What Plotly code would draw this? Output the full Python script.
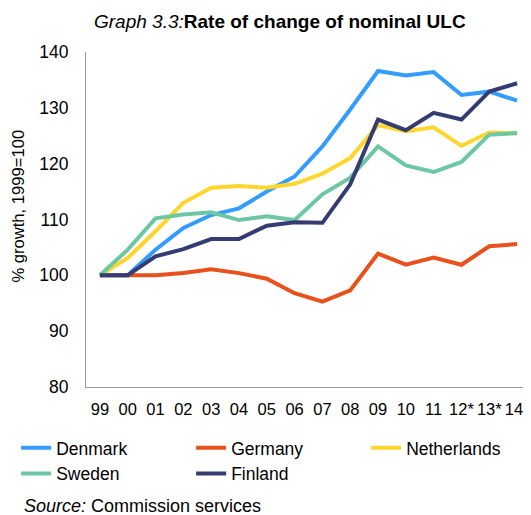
"""Graph 3.3: rate of change of nominal ULC."""

import plotly.graph_objects as go

years = ["99", "00", "01", "02", "03", "04", "05", "06", "07", "08",
         "09", "10", "11", "12*", "13*", "14*"]

denmark = [100, 100, 104.6, 108.5, 110.8, 112.0, 115.0, 117.7, 123.1, 129.7,
           136.6, 135.8, 136.4, 132.3, 132.9, 131.3]
germany = [100, 100, 100, 100.4, 101.1, 100.4, 99.4, 96.8, 95.3, 97.3,
           103.9, 101.9, 103.2, 101.9, 105.2, 105.6]
netherlands = [100, 103.1, 107.9, 113.0, 115.7, 116.0, 115.7, 116.4, 118.2, 121.0,
               126.9, 125.8, 126.5, 123.2, 125.6, 125.4]
sweden = [100, 104.6, 110.2, 110.9, 111.3, 109.9, 110.6, 109.9, 114.5, 117.5,
          123.1, 119.7, 118.5, 120.3, 125.2, 125.5]
finland = [100, 100, 103.4, 104.7, 106.5, 106.5, 108.9, 109.5, 109.4, 116.3,
           127.9, 126.0, 129.1, 127.9, 132.9, 134.4]

series = [
    ("Denmark", denmark, "#339cff"),
    ("Germany", germany, "#e8511c"),
    ("Netherlands", netherlands, "#ffd52e"),
    ("Sweden", sweden, "#6dc7a5"),
    ("Finland", finland, "#343c72"),
]

FONT = "Liberation Sans, Arial, sans-serif"

fig = go.Figure()
for name, values, color in series:
    fig.add_trace(
        go.Scatter(x=years, y=values, name=name, mode="lines",
                   line=dict(color=color, width=4))
    )

# page body adds an 8px margin, so the figure is 8px smaller than the window
fig.update_layout(
    width=523,
    height=507,
    margin=dict(l=78, r=0, t=44, b=128, autoexpand=False),
    plot_bgcolor="white",
    paper_bgcolor="white",
    font=dict(family=FONT, size=17.5, color="#000000"),
    showlegend=True,
    legend=dict(
        orientation="h", x=-0.157, xanchor="left", y=-0.128, yanchor="top",
        entrywidth=130, entrywidthmode="pixels", font=dict(size=17.5),
        tracegroupgap=0,
    ),
    annotations=[
        dict(text="<i>Graph 3.3:</i><b>Rate of change of nominal ULC</b>",
             xref="paper", yref="paper", x=0.437, y=1 + 31 / 335,
             xanchor="center", yanchor="middle", showarrow=False,
             font=dict(size=19)),
        dict(text="% growth, 1999=100", xref="paper", yref="paper",
             x=-0.1525, y=0.539, textangle=-90, xanchor="center",
             yanchor="middle", showarrow=False, font=dict(size=16.6)),
        dict(text="<i>Source:</i> Commission services", xref="paper", yref="paper",
             x=-0.144, y=-0.355, xanchor="left", yanchor="middle",
             showarrow=False, font=dict(size=18)),
    ],
)
fig.update_xaxes(
    type="category", range=[-0.5, len(years) - 0.5], showgrid=False,
    showline=True, linecolor="#9a9a9a", linewidth=1, ticks="", tickangle=0,
    ticklabelstandoff=7, tickfont=dict(size=16.5), automargin=False,
)
fig.update_yaxes(
    range=[80, 140], dtick=10, showgrid=False, zeroline=False, showline=True,
    linecolor="#9a9a9a", linewidth=1, ticks="", ticklabelstandoff=13,
    tickfont=dict(size=17.5), automargin=False,
)

# the page is a few px taller than the window; hide the scrollbar it would add
fig.write_html("out.html", post_script="document.body.style.overflow='hidden';")
